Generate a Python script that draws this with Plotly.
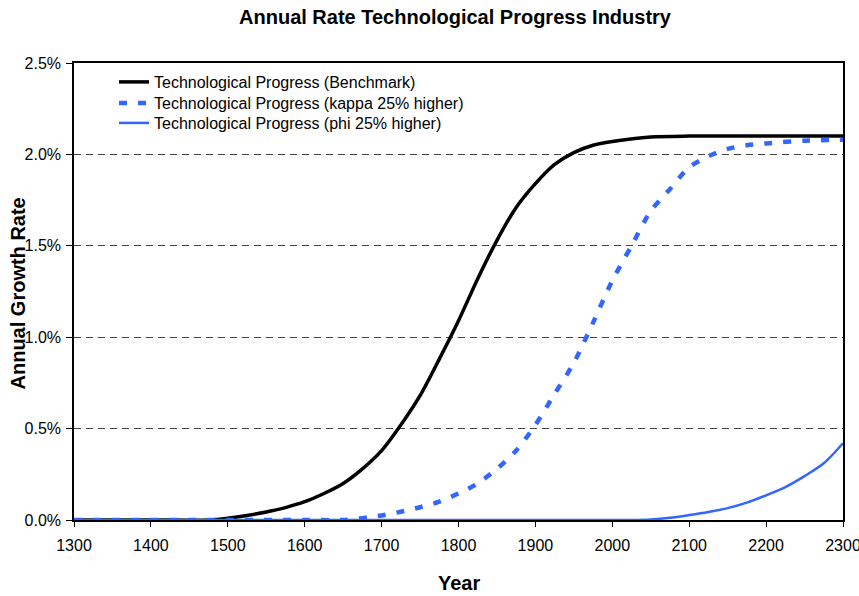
import plotly.graph_objects as go

# ---- data (annual growth rate, percent) ----
bench_years = [1300, 1400, 1475, 1500, 1525, 1550, 1575, 1600, 1625, 1650, 1675, 1700,
               1725, 1750, 1775, 1800, 1825, 1850, 1875, 1900, 1925, 1950, 1975, 2000,
               2050, 2100, 2200, 2300]
bench_vals = [0.0, 0.0, 0.0, 0.01, 0.025, 0.044, 0.068, 0.10, 0.145, 0.20, 0.28, 0.38,
              0.52, 0.68, 0.88, 1.09, 1.32, 1.53, 1.71, 1.84, 1.945, 2.01, 2.05, 2.07,
              2.095, 2.10, 2.10, 2.10]

kappa_years = [1300, 1500, 1600, 1650, 1675, 1700, 1725, 1750, 1775, 1800, 1825, 1850,
               1875, 1900, 1925, 1950, 1975, 2000, 2025, 2050, 2075, 2100, 2125, 2150,
               2175, 2200, 2250, 2300]
kappa_vals = [0.0, 0.0, 0.0, 0.0, 0.01, 0.025, 0.045, 0.07, 0.10, 0.145, 0.20, 0.28,
              0.38, 0.52, 0.69, 0.86, 1.08, 1.31, 1.50, 1.69, 1.81, 1.93, 1.99, 2.03,
              2.05, 2.06, 2.075, 2.08]

phi_years = [1300, 1600, 1900, 2025, 2050, 2075, 2100, 2125, 2150, 2175, 2200, 2225,
             2250, 2275, 2300]
phi_vals = [0.0, 0.0, 0.0, 0.0, 0.003, 0.012, 0.027, 0.044, 0.065, 0.095, 0.135, 0.18,
            0.24, 0.31, 0.42]

series_names = ["Technological Progress (Benchmark)",
                "Technological Progress (kappa 25% higher)",
                "Technological Progress (phi 25% higher)"]

x_ticks = list(range(1300, 2301, 100))
y_ticks = [0, 0.005, 0.01, 0.015, 0.02, 0.025]

FONT = "Liberation Sans, Arial, sans-serif"
BLUE = "#3366FF"

W, H = 859, 596
L, R, T, B = 74, 16, 63, 76
PW, PH = W - L - R, H - T - B

fig = go.Figure()
fig.add_trace(go.Scatter(
    x=bench_years, y=[v / 100 for v in bench_vals], mode="lines", legend="legend",
    name=series_names[0], line=dict(color="black", width=3.5, shape="spline", smoothing=0.8)))
fig.add_trace(go.Scatter(
    x=kappa_years, y=[v / 100 for v in kappa_vals], mode="lines", legend="legend2",
    name=series_names[1], line=dict(color=BLUE, width=4.5, dash="8px,11px", shape="spline", smoothing=0.8)))
fig.add_trace(go.Scatter(
    x=phi_years, y=[v / 100 for v in phi_vals], mode="lines", legend="legend3",
    name=series_names[2], line=dict(color=BLUE, width=2.5, shape="spline", smoothing=0.8)))


def leg(top_y):
    return dict(x=(114 - L) / PW, y=(H - B - top_y) / PH, xanchor="left", yanchor="top",
                bgcolor="rgba(0,0,0,0)", borderwidth=0,
                font=dict(family=FONT, size=16, color="black"), itemwidth=30)


fig.update_layout(
    width=W, height=H,
    margin=dict(l=L, r=R, t=T, b=B, autoexpand=False),
    paper_bgcolor="white", plot_bgcolor="white",
    font=dict(family=FONT, size=16, color="black"),
    title=dict(text="<b>Annual Rate Technological Progress Industry</b>",
               x=455 / W, xanchor="center", xref="container",
               y=1 - 16.5 / H, yanchor="middle", yref="container",
               font=dict(family=FONT, size=20, color="black")),
    showlegend=True,
    legend=leg(65),
    legend2=leg(86),
    legend3=leg(106),
    xaxis=dict(range=[1300, 2300], tickvals=x_ticks, ticktext=[str(t) for t in x_ticks],
               showgrid=False, zeroline=False, automargin=False,
               showline=True, linecolor="black", linewidth=1.5, mirror=True,
               ticks="outside", ticklen=5, tickcolor="black", ticklabelstandoff=5,
               ticklabeloverflow="allow",
               tickfont=dict(family=FONT, size=16)),
    yaxis=dict(range=[0, 0.025], tickvals=y_ticks, tickformat=".1%",
               showgrid=True, gridcolor="#444444", gridwidth=1, griddash="7px,5px",
               zeroline=False, automargin=False,
               showline=True, linecolor="black", linewidth=1.5, mirror=True,
               ticks="outside", ticklen=6, tickcolor="black", ticklabelstandoff=2,
               ticklabeloverflow="allow",
               tickfont=dict(family=FONT, size=16)),
    annotations=[
        dict(text="<b>Year</b>", xref="paper", yref="paper",
             x=0.5, y=-(583 - (H - B)) / PH, xanchor="center", yanchor="middle",
             showarrow=False, font=dict(family=FONT, size=20, color="black")),
        dict(text="<b>Annual Growth Rate</b>", xref="paper", yref="paper",
             x=(17.5 - L) / PW, y=(H - B - 294) / PH, xanchor="center", yanchor="middle",
             textangle=-90, showarrow=False, font=dict(family=FONT, size=20, color="black")),
    ],
)

# remove the default 8px page margin so the figure fills the window exactly
fig.write_html("out.html", config={"displayModeBar": False},
               post_script="document.body.style.margin='0';")
